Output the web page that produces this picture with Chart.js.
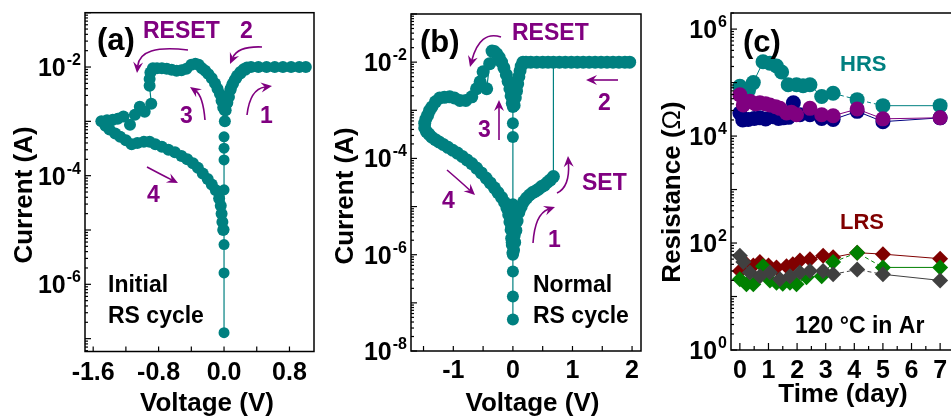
<!DOCTYPE html>
<html>
<head>
<meta charset="utf-8">
<script src="https://cdn.jsdelivr.net/npm/chart.js@4"></script>
<style>
  html, body { margin: 0; padding: 0; background: #fff; overflow: hidden; width: 951px; height: 416px; }
  canvas { position: absolute; top: 0; }
</style>
</head>
<body>
<canvas id="chartA" width="320" height="416" style="left:0px"></canvas>
<canvas id="chartB" width="330" height="416" style="left:320px"></canvas>
<canvas id="chartC" width="330" height="416" style="left:640px"></canvas>
<script>
const FONT = '"Liberation Sans", Arial, sans-serif';
const TEAL = '#008080', PURPLE = '#800080';

// (a) initial RS cycle: points sitting on V = 0
const voltA_col = [0, 0, 0, 0, 0, 0, 0, 0];
const currA_col = [5.2e-4, 3.2e-4, 1.95e-4, 5.5e-5, 1.02e-5, 5.4e-6, 1.62e-6, 1.29e-7];
// (a) sweep 1 -> 2 -> 3 -> 4
const voltA = [
  0.01, 0.02, 0.04, 0.06, 0.08, 0.10, 0.13, 0.16, 0.20, 0.24, 0.28, 0.33, 0.42, 0.52, 0.62, 0.72, 0.82, 0.92, 1.00,
  0.26, 0.20, 0.15, 0.11, 0.08, 0.05, 0.03, 0.01,
  -0.01, -0.03, -0.05, -0.08, -0.11, -0.15, -0.19, -0.23, -0.27, -0.31, -0.35,
  -0.40, -0.46, -0.52, -0.58, -0.64, -0.70, -0.76, -0.82, -0.87, -0.90, -0.91, -0.91,
  -0.89, -0.97, -1.03, -1.09, -1.15, -1.23, -1.30, -1.36, -1.43, -1.50,
  -1.45, -1.40, -1.33, -1.27, -1.20, -1.13, -1.06, -0.98, -0.91, -0.84, -0.76, -0.68, -0.60, -0.52, -0.45,
  -0.38, -0.32, -0.26, -0.20, -0.15, -0.10, -0.06, -0.04, -0.03, -0.02, -0.01
];
const currA = [
  1.0e-3, 1.6e-3, 2.2e-3, 2.8e-3, 3.8e-3, 4.7e-3, 5.8e-3, 6.9e-3, 8.1e-3, 9.1e-3, 9.8e-3, 1.0e-2, 1.0e-2, 1.0e-2, 1.0e-2, 1.0e-2, 1.0e-2, 1.0e-2, 1.0e-2,
  8.9e-3, 7.6e-3, 6.3e-3, 5.0e-3, 4.0e-3, 2.8e-3, 2.1e-3, 1.6e-3,
  1.8e-3, 2.4e-3, 3.2e-3, 4.0e-3, 5.0e-3, 6.2e-3, 7.4e-3, 8.5e-3, 9.5e-3, 1.1e-2, 1.15e-2,
  1.1e-2, 9.3e-3, 8.7e-3, 8.5e-3, 8.9e-3, 9.3e-3, 9.5e-3, 9.5e-3, 9.5e-3, 7.9e-3, 6.0e-3, 4.5e-3,
  2.1e-3, 1.5e-3, 1.86e-3, 1.32e-3, 8.7e-4, 1.23e-3, 1.12e-3, 1.07e-3, 1.05e-3, 1.0e-3,
  8.3e-4, 7.1e-4, 6.0e-4, 5.2e-4, 4.5e-4, 3.8e-4, 4.0e-4, 4.2e-4, 4.2e-4, 3.8e-4, 3.4e-4, 3.0e-4, 2.7e-4, 2.3e-4, 2.0e-4,
  1.7e-4, 1.4e-4, 1.1e-4, 8.7e-5, 6.9e-5, 5.4e-5, 3.8e-5, 2.8e-5, 2.0e-5, 1.4e-5, 1.0e-5
];

// (b) normal RS cycle: points sitting on V = 0
const voltB_col = [0, 0, 0, 0, -0.04, 0.04, -0.03, 0.03, -0.02, 0.02, 0, 0, 0, 0];
const currB_col = [1.17e-3, 5.4e-4, 2.8e-4, 1.12e-5, 7.1e-6, 5.0e-6, 3.5e-6, 2.5e-6, 1.8e-6, 1.26e-6, 1.0e-6, 4.5e-7, 1.35e-7, 4.5e-8];
// (b) sweep 1 (SET) -> 2 -> 3 (RESET) -> 4
const voltB = [
  0.03, 0.05, 0.07, 0.10, 0.14, 0.18, 0.23, 0.28, 0.33, 0.38, 0.43, 0.48, 0.53, 0.58, 0.63, 0.68,
  0.68, 0.78, 0.88, 0.98, 1.08, 1.18, 1.28, 1.38, 1.48, 1.58, 1.68, 1.78, 1.88, 1.96,
  0.59, 0.50, 0.40, 0.30, 0.22, 0.17, 0.14, 0.12, 0.10, 0.08, 0.06, 0.04, 0.02,
  -0.01, -0.03, -0.05, -0.08, -0.11, -0.15, -0.19, -0.23, -0.27, -0.31, -0.35,
  -0.39, -0.44, -0.50, -0.55, -0.61, -0.69, -0.79, -0.89, -0.98, -1.06, -1.15, -1.23, -1.30, -1.36, -1.40, -1.43, -1.46, -1.48, -1.48,
  -1.45, -1.41, -1.36, -1.30, -1.24, -1.17, -1.09, -1.01, -0.93, -0.85, -0.77, -0.69, -0.61, -0.53,
  -0.45, -0.38, -0.31, -0.25, -0.19, -0.14, -0.10, -0.07, -0.05, -0.03, -0.02, -0.01, 0.0
];
const currB = [
  1.8e-6, 3.2e-6, 5.0e-6, 7.6e-6, 1.0e-5, 1.26e-5, 1.5e-5, 1.74e-5, 1.95e-5, 2.1e-5, 2.3e-5, 2.6e-5, 2.8e-5, 3.2e-5, 3.6e-5, 4.2e-5,
  1.0e-2, 1.0e-2, 1.0e-2, 1.0e-2, 1.0e-2, 1.0e-2, 1.0e-2, 1.0e-2, 1.0e-2, 1.0e-2, 1.0e-2, 1.0e-2, 1.0e-2, 1.0e-2,
  1.0e-2, 1.0e-2, 1.0e-2, 1.0e-2, 1.0e-2, 1.0e-2, 8.3e-3, 6.6e-3, 5.0e-3, 3.5e-3, 2.5e-3, 1.8e-3, 1.26e-3,
  1.4e-3, 2.0e-3, 2.8e-3, 4.0e-3, 5.5e-3, 7.6e-3, 1.0e-2, 1.26e-2, 1.48e-2, 1.66e-2, 1.7e-2,
  9.3e-3, 2.8e-3, 6.3e-3, 3.9e-3, 2.8e-3, 1.9e-3, 1.6e-3, 1.6e-3, 1.8e-3, 1.9e-3, 1.86e-3, 1.8e-3, 1.5e-3, 1.17e-3, 9.8e-4, 7.9e-4, 6.6e-4, 5.4e-4, 4.3e-4,
  3.6e-4, 3.2e-4, 2.75e-4, 2.45e-4, 2.2e-4, 1.95e-4, 1.7e-4, 1.48e-4, 1.29e-4, 1.1e-4, 9.3e-5, 7.8e-5, 6.3e-5, 5.0e-5,
  3.9e-5, 3.1e-5, 2.45e-5, 1.95e-5, 1.55e-5, 1.23e-5, 9.3e-6, 6.8e-6, 4.8e-6, 3.3e-6, 2.2e-6, 1.6e-6, 1.1e-6
];

// (c) retention at 120 C in Ar, HRS (circles) and LRS (diamonds)
const daysHrsTeal = [0, 0.3, 0.47, 0.81, 1.05, 1.28, 1.46, 1.69, 1.98, 2.21, 2.45, 2.86, 3.26, 4.1, 5.0, 7.0];
const resHrsTeal = [8.5e4, 7.1e4, 1.0e5, 2.45e5, 2.3e5, 2.04e5, 1.58e5, 9.1e4, 9.1e4, 8.7e4, 9.1e4, 5.5e4, 6.3e4, 4.8e4, 3.7e4, 3.7e4];
const daysHrsNavy = [0, 0.1, 0.29, 0.5, 0.7, 0.9, 1.16, 1.35, 1.51, 1.7, 1.87, 2.1, 2.45, 2.86, 3.26, 4.1, 5.0, 7.0];
const resHrsNavy = [2.7e4, 2.0e4, 2.04e4, 2.14e4, 2.19e4, 2.09e4, 2.3e4, 2.14e4, 2.19e4, 2.24e4, 4.2e4, 2.5e4, 2.5e4, 2.14e4, 2.04e4, 2.9e4, 1.86e4, 2.19e4];
const daysHrsPurple = [0, 0.12, 0.35, 0.55, 0.7, 0.9, 1.05, 1.25, 1.4, 1.63, 1.8, 1.98, 2.45, 2.86, 3.26, 4.1, 5.0, 7.0];
const resHrsPurple = [5.9e4, 3.8e4, 4.5e4, 4.0e4, 4.2e4, 4.0e4, 3.8e4, 3.55e4, 3.3e4, 2.7e4, 2.8e4, 2.5e4, 3.3e4, 2.5e4, 2.4e4, 3.2e4, 2.1e4, 2.2e4];
const daysLrsRed = [0, 0.23, 0.47, 0.7, 1.0, 1.28, 1.63, 1.85, 2.1, 2.45, 2.91, 3.26, 4.1, 5.0, 7.0];
const resLrsRed = [30, 40, 38, 44, 38, 35, 37, 40, 47, 50, 58, 54, 66, 62, 51];
const daysLrsGreen = [0, 0.23, 0.47, 0.81, 1.05, 1.28, 1.5, 1.75, 1.98, 2.33, 2.86, 3.26, 4.1, 5.0, 7.0];
const resLrsGreen = [21, 17, 17, 37, 20, 18, 17.4, 18, 17, 23, 24, 44, 66, 35, 35];
const daysLrsGray = [0, 0.12, 0.35, 0.7, 1.05, 1.4, 1.75, 2.1, 2.45, 2.91, 3.26, 4.1, 5.0, 7.0];
const resLrsGray = [58, 44, 28, 24, 28, 21, 24, 28, 30, 30, 26, 32, 26, 20];

const pts = (xs, ys) => xs.map((x, i) => ({ x: x, y: ys[i] }));

function line(ctx, x1, y1, x2, y2) {
  ctx.beginPath(); ctx.moveTo(x1, y1); ctx.lineTo(x2, y2); ctx.stroke();
}

function txt(ctx, s, x, y, size, color) {
  ctx.font = 'bold ' + size + 'px ' + FONT;
  ctx.fillStyle = color || '#000';
  ctx.textAlign = 'left';
  ctx.textBaseline = 'alphabetic';
  ctx.fillText(s, x, y);
}

// curved purple arrow, head at p2
function arrow(ctx, p0, p1, p2) {
  ctx.save();
  ctx.strokeStyle = PURPLE; ctx.fillStyle = PURPLE; ctx.lineWidth = 1.6;
  const ang = Math.atan2(p2[1] - p1[1], p2[0] - p1[0]);
  const c = Math.cos(ang), s = Math.sin(ang), L = 11, W = 5;
  ctx.beginPath();
  ctx.moveTo(p0[0], p0[1]);
  ctx.quadraticCurveTo(p1[0], p1[1], p2[0] - 7 * c, p2[1] - 7 * s);
  ctx.stroke();
  ctx.beginPath();
  ctx.moveTo(p2[0], p2[1]);
  ctx.lineTo(p2[0] - L * c + W * s, p2[1] - L * s - W * c);
  ctx.lineTo(p2[0] - 0.65 * L * c, p2[1] - 0.65 * L * s);
  ctx.lineTo(p2[0] - L * c - W * s, p2[1] - L * s + W * c);
  ctx.closePath();
  ctx.fill();
  ctx.restore();
}

const PANELS = {
  chartA: {
    xTicks: [-1.6, -1.2, -0.8, -0.4, 0, 0.4, 0.8], xLabels: [-1.6, -0.8, 0, 0.8],
    xFmt: v => v.toFixed(1), xLabelBase: 380, xMajor: 5, xMinor: 5,
    yLabels: [-2, -4, -6],
    xTitle: ['Voltage (V)', 207, 411],
    yTitle: [[['Current (A)', 'bold']], 31.5, 195],
    draw(ctx) {
      txt(ctx, '(a)', 97, 50, 31);
      txt(ctx, 'RESET', 143, 38, 23, PURPLE);
      txt(ctx, '2', 240, 38, 23, PURPLE);
      txt(ctx, '1', 260, 123, 23, PURPLE);
      txt(ctx, '3', 180, 123, 23, PURPLE);
      txt(ctx, '4', 147, 202, 23, PURPLE);
      txt(ctx, 'Initial', 108, 292, 23);
      txt(ctx, 'RS cycle', 108, 323, 23);
      arrow(ctx, [188, 50], [140, 44], [137, 73]);
      arrow(ctx, [262, 47], [238, 46], [230, 64]);
      arrow(ctx, [247, 115], [250, 89], [272, 86]);
      arrow(ctx, [205, 120], [203, 96], [190, 87]);
      arrow(ctx, [147, 167], [162, 175], [178, 183]);
    }
  },
  chartB: {
    xTicks: [-1.5, -1, -0.5, 0, 0.5, 1, 1.5, 2], xLabels: [-1, 0, 1, 2],
    xFmt: v => String(v), xLabelBase: 378, xMajor: 5, xMinor: 5,
    yLabels: [-2, -4, -6, -8],
    xTitle: ['Voltage (V)', 212.5, 411],
    yTitle: [[['Current (A)', 'bold']], 33, 196],
    draw(ctx) {
      txt(ctx, '(b)', 100, 52, 31);
      txt(ctx, 'RESET', 192, 40, 23, PURPLE);
      txt(ctx, '2', 278, 110, 23, PURPLE);
      txt(ctx, 'SET', 262, 190, 23, PURPLE);
      txt(ctx, '1', 228, 247, 23, PURPLE);
      txt(ctx, '3', 158, 137, 23, PURPLE);
      txt(ctx, '4', 122, 208, 23, PURPLE);
      txt(ctx, 'Normal', 213, 292, 23);
      txt(ctx, 'RS cycle', 213, 323, 23);
      arrow(ctx, [181, 37], [160, 30], [150, 67]);
      arrow(ctx, [298, 80], [282, 80], [266, 80]);
      arrow(ctx, [237, 193], [250, 187], [248, 156]);
      arrow(ctx, [213, 243], [215, 214], [235, 207]);
      arrow(ctx, [179, 140], [179, 120], [179, 100]);
      arrow(ctx, [127, 170], [141, 182], [155, 195]);
    }
  },
  chartC: {
    xTicks: [0, 0.5, 1, 1.5, 2, 2.5, 3, 3.5, 4, 4.5, 5, 5.5, 6, 6.5, 7, 7.5], xLabels: [0, 1, 2, 3, 4, 5, 6, 7],
    xFmt: v => String(v), xLabelBase: 378, xMajor: 7, xMinor: 4,
    yLabels: [0, 2, 4, 6],
    xTitle: ['Time (day)', 203, 402],
    yTitle: [[['Resistance (', 'bold'], ['\u03A9', 'normal'], [')', 'bold']], 40, 192],
    draw(ctx) {
      txt(ctx, '(c)', 103, 52, 31);
      txt(ctx, 'HRS', 200, 71, 22, TEAL);
      txt(ctx, 'LRS', 200, 229, 22, '#800000');
      txt(ctx, '120 \u00B0C in Ar', 155, 333, 23);
    }
  }
};

const panelPlugin = {
  id: 'panelFrame',
  afterDatasetsDraw(chart) {
    const o = PANELS[chart.canvas.id];
    const ctx = chart.ctx, a = chart.chartArea, xs = chart.scales.x, ys = chart.scales.y;
    ctx.save();
    ctx.strokeStyle = '#000';
    ctx.lineWidth = 1.5;
    ctx.strokeRect(a.left, a.top, a.right - a.left, a.bottom - a.top);

    // inward ticks
    ctx.lineWidth = 1.2;
    o.xTicks.forEach(v => {
      const px = xs.getPixelForValue(v);
      const len = o.xLabels.includes(v) ? o.xMajor : o.xMinor;
      line(ctx, px, a.bottom, px, a.bottom - len);
    });
    const e0 = Math.floor(Math.log10(ys.min)), e1 = Math.ceil(Math.log10(ys.max));
    for (let e = e0; e <= e1; e++) {
      for (let m = 1; m <= 9; m++) {
        const v = m * Math.pow(10, e);
        if (v < ys.min * 0.999 || v > ys.max * 1.001) continue;
        const py = ys.getPixelForValue(v);
        line(ctx, a.left, py, a.left + (m === 1 ? 6 : 3), py);
      }
    }

    // tick labels
    ctx.fillStyle = '#000';
    ctx.textBaseline = 'alphabetic';
    ctx.font = 'bold 25px ' + FONT;
    ctx.textAlign = 'center';
    o.xLabels.forEach(v => ctx.fillText(o.xFmt(v), xs.getPixelForValue(v), o.xLabelBase));
    o.yLabels.forEach(e => {
      const py = ys.getPixelForValue(Math.pow(10, e));
      const es = String(e);
      ctx.font = 'bold 16px ' + FONT;
      const ew = ctx.measureText(es).width;
      ctx.font = 'bold 25px ' + FONT;
      const bw = ctx.measureText('10').width;
      const right = a.left - 4;
      ctx.textAlign = 'left';
      ctx.fillText('10', right - ew - bw - 1, py + 9);
      ctx.font = 'bold 16px ' + FONT;
      ctx.fillText(es, right - ew, py - 2);
    });

    // axis titles
    ctx.font = 'bold 26px ' + FONT;
    ctx.textAlign = 'center';
    ctx.fillText(o.xTitle[0], o.xTitle[1], o.xTitle[2]);
    const parts = o.yTitle[0];
    let total = 0;
    parts.forEach(p => { ctx.font = p[1] + ' 26px ' + FONT; total += ctx.measureText(p[0]).width; });
    ctx.save();
    ctx.translate(o.yTitle[1], o.yTitle[2]);
    ctx.rotate(-Math.PI / 2);
    ctx.textAlign = 'left';
    let xpos = -total / 2;
    parts.forEach(p => {
      ctx.font = p[1] + ' 26px ' + FONT;
      ctx.fillText(p[0], xpos, 0);
      xpos += ctx.measureText(p[0]).width;
    });
    ctx.restore();

    o.draw(ctx);
    ctx.restore();
  }
};

function ivSet(data, r, lw) {
  return {
    data: data, showLine: true, borderColor: TEAL, borderWidth: lw,
    pointRadius: r, pointHoverRadius: r, pointBackgroundColor: TEAL,
    pointBorderColor: TEAL, pointBorderWidth: 0
  };
}

function retSet(data, color, style, r, order, dashed) {
  return {
    data: data, showLine: true, borderColor: color, borderWidth: 1,
    pointStyle: style, pointRadius: r, pointHoverRadius: r,
    pointBackgroundColor: color, pointBorderColor: color, pointBorderWidth: 0,
    order: order,
    segment: {
      borderDash: ctx => (dashed && ctx.p0.parsed.x >= 3.2 && ctx.p1.parsed.x <= 5.1) ? [4, 3] : undefined
    }
  };
}

function makeChart(id, datasets, xr, yr, pad) {
  return new Chart(document.getElementById(id), {
    type: 'scatter',
    data: { datasets: datasets },
    options: {
      responsive: false,
      animation: false,
      devicePixelRatio: 1,
      layout: { padding: pad },
      plugins: { legend: { display: false }, tooltip: { enabled: false } },
      scales: {
        x: {
          type: 'linear', min: xr[0], max: xr[1],
          ticks: { display: false }, grid: { display: false }, border: { display: false },
          afterFit: s => { s.height = 0; }
        },
        y: {
          type: 'logarithmic', min: yr[0], max: yr[1],
          ticks: { display: false }, grid: { display: false }, border: { display: false },
          afterFit: s => { s.width = 0; }
        }
      }
    },
    plugins: [panelPlugin]
  });
}

makeChart('chartA',
  [ivSet(pts(voltA_col, currA_col), 5.5, 1.2), ivSet(pts(voltA, currA), 6, 1.2)],
  [-1.7, 1.1], [5.8e-8, 0.1],
  { left: 85, right: 4.5, top: 12.7, bottom: 64.5 });

makeChart('chartB',
  [ivSet(pts(voltB_col, currB_col), 6, 1.2), ivSet(pts(voltB, currB), 6.5, 1.2)],
  [-1.71, 2.15], [1e-8, 0.1],
  { left: 91, right: 9, top: 14, bottom: 65 });

makeChart('chartC',
  [
    retSet(pts(daysHrsTeal, resHrsTeal), TEAL, 'circle', 7.5, 6, true),
    retSet(pts(daysHrsNavy, resHrsNavy), '#000080', 'circle', 7.5, 5, false),
    retSet(pts(daysHrsPurple, resHrsPurple), PURPLE, 'circle', 7.5, 4, false),
    retSet(pts(daysLrsRed, resLrsRed), '#800000', 'rectRot', 8, 3, false),
    retSet(pts(daysLrsGreen, resLrsGreen), '#008000', 'rectRot', 8, 2, true),
    retSet(pts(daysLrsGray, resLrsGray), '#404040', 'rectRot', 8, 1, true)
  ],
  [-0.31, 7.52], [1, 2e6],
  { left: 91, right: 15, top: 13, bottom: 66 });
</script>
</body>
</html>
